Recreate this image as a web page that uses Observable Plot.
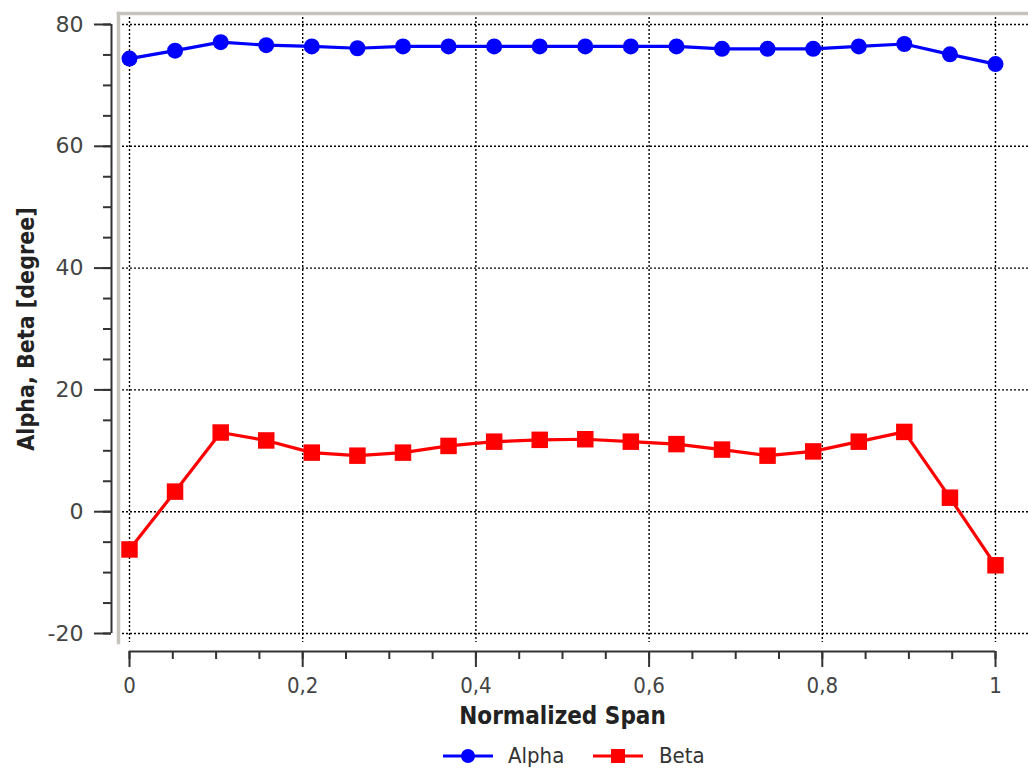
<!DOCTYPE html>
<html>
<head>
<meta charset="utf-8">
<script src="https://cdn.jsdelivr.net/npm/d3@7"></script>
<script src="https://cdn.jsdelivr.net/npm/@observablehq/plot@0.6"></script>
<style>
  html, body { margin: 0; padding: 0; background: #fff; }
  body { width: 1028px; height: 773px; overflow: hidden; font-family: "DejaVu Sans Condensed", "DejaVu Sans", sans-serif; }
  #legend { position: relative; height: 35px; font-size: 22px; color: #333; }
  #legend .item { position: absolute; top: 0; height: 35px; display: flex; align-items: center; }
</style>
</head>
<body>
<div id="chart"></div>
<div id="legend"></div>
<script>
// ---- data ----
const span = [0, 0.0526, 0.1053, 0.1579, 0.2105, 0.2632, 0.3158, 0.3684, 0.4211, 0.4737,
              0.5263, 0.5789, 0.6316, 0.6842, 0.7368, 0.7895, 0.8421, 0.8947, 0.9474, 1];
const alpha = [74.4, 75.7, 77.1, 76.6, 76.4, 76.1, 76.4, 76.4, 76.4, 76.4,
               76.4, 76.4, 76.4, 76.0, 76.0, 76.0, 76.4, 76.8, 75.1, 73.5];
const beta = [-6.2, 3.3, 13.0, 11.7, 9.7, 9.2, 9.7, 10.8, 11.5, 11.8,
              11.9, 11.5, 11.1, 10.2, 9.2, 9.9, 11.5, 13.1, 2.3, -8.8];
const seriesNames = ["Alpha", "Beta"];
const seriesColors = ["#0000ff", "#ff0000"];
const yTicks = [-20, 0, 20, 40, 60, 80];
const yTickLabels = ["-20", "0", "20", "40", "60", "80"];
const yMinorTicks = [-20, -15, -10, -5, 0, 5, 10, 15, 20, 25, 30, 35, 40, 45, 50, 55, 60, 65, 70, 75, 80];
const xTicks = [0, 0.2, 0.4, 0.6, 0.8, 1];
const xTickLabels = ["0", "0,2", "0,4", "0,6", "0,8", "1"];
const xMinorTicks = [0, 0.05, 0.1, 0.15, 0.2, 0.25, 0.3, 0.35, 0.4, 0.45, 0.5,
                     0.55, 0.6, 0.65, 0.7, 0.75, 0.8, 0.85, 0.9, 0.95, 1];
const xLabel = "Normalized Span";
const yLabel = "Alpha, Beta [degree]";

const rows = span.map((s, i) => ({span: s, alpha: alpha[i], beta: beta[i]}));

const H = 738;
const COND = "'DejaVu Sans Condensed', 'DejaVu Sans', sans-serif";
const REG = "'DejaVu Sans', sans-serif";
const axisColor = "#333";
const gridStyle = {stroke: "#000", strokeWidth: 1.4, strokeDasharray: "2,2"};
const frameColor = "#c6c3bc";

const chart = Plot.plot({
  width: 1028,
  height: H,
  marginLeft: 118,
  marginRight: 0,
  marginTop: 13,
  marginBottom: H - 642,
  x: {domain: [0, 1], range: [129, 995], axis: null},
  y: {domain: [-20, 80], range: [633, 24], axis: null},
  style: {fontFamily: COND, fontSize: "22px", background: "#fff", overflow: "visible"},
  marks: [
    Plot.ruleY(yTicks, gridStyle),
    Plot.ruleX(xTicks, gridStyle),
    Plot.frame({anchor: "left", stroke: frameColor, strokeWidth: 3.5}),
    Plot.frame({anchor: "top", stroke: frameColor, strokeWidth: 3.5}),
    // y axis
    Plot.ruleX([0], {y1: -20, y2: 80, dx: -18, stroke: axisColor, strokeWidth: 2}),
    Plot.axisY(yMinorTicks, {tickSize: 8, dx: -7, fill: "none", stroke: axisColor, strokeWidth: 2, label: null}),
    Plot.axisY(yTicks, {tickSize: 17, dx: -7, tickPadding: 11, fill: "#444", stroke: axisColor, strokeWidth: 2,
      label: null, fontSize: 22, fontFamily: REG, tickFormat: d => yTickLabels[yTicks.indexOf(d)]}),
    // x axis
    Plot.ruleY([-20], {x1: 0, x2: 1, dy: 18, stroke: axisColor, strokeWidth: 2}),
    Plot.axisX(xMinorTicks, {tickSize: 8, dy: 9, fill: "none", stroke: axisColor, strokeWidth: 2, label: null}),
    Plot.axisX(xTicks, {tickSize: 16, dy: 9, tickPadding: 10, fill: "#444", stroke: axisColor, strokeWidth: 2,
      label: null, fontSize: 22, fontFamily: COND, tickFormat: d => xTickLabels[xTicks.indexOf(d)]}),
    // axis titles
    Plot.text([xLabel], {frameAnchor: "bottom", dx: -11, dy: 74, lineAnchor: "middle", textAnchor: "middle",
      fontWeight: "bold", fontSize: 24, fontFamily: COND, fill: "#222"}),
    Plot.text([yLabel], {frameAnchor: "left", rotate: -90, dx: -92, dy: 1, lineAnchor: "middle", textAnchor: "middle",
      fontWeight: "bold", fontSize: 23, fontFamily: COND, fill: "#222"}),
    // series
    Plot.line(rows, {x: "span", y: "alpha", stroke: seriesColors[0], strokeWidth: 3.2}),
    Plot.dot(rows, {x: "span", y: "alpha", fill: seriesColors[0], r: 8}),
    Plot.line(rows, {x: "span", y: "beta", stroke: seriesColors[1], strokeWidth: 3.2}),
    Plot.dot(rows, {x: "span", y: "beta", fill: seriesColors[1], symbol: "square", r: 9.3})
  ]
});
document.getElementById("chart").appendChild(chart);

// ---- legend ----
const legend = d3.select("#legend");
const lefts = [[443, 508], [593, 659]];
seriesNames.forEach((name, i) => {
  const sw = legend.append("div").attr("class", "item").style("left", lefts[i][0] + "px")
    .append("svg").attr("width", 50).attr("height", 20);
  sw.append("line").attr("x1", 0).attr("x2", 50).attr("y1", 10).attr("y2", 10)
    .attr("stroke", seriesColors[i]).attr("stroke-width", 3);
  if (i === 0) sw.append("circle").attr("cx", 25).attr("cy", 10).attr("r", 7).attr("fill", seriesColors[i]);
  else sw.append("rect").attr("x", 18).attr("y", 3).attr("width", 14).attr("height", 14).attr("fill", seriesColors[i]);
  legend.append("div").attr("class", "item").style("left", lefts[i][1] + "px").text(name);
});
</script>
</body>
</html>
